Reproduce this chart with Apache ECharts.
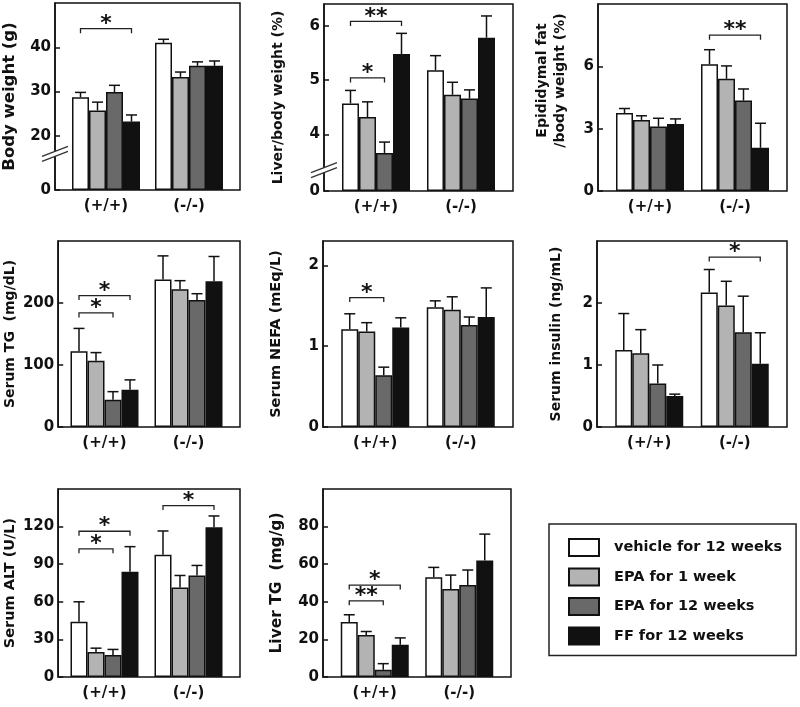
<!DOCTYPE html>
<html><head><meta charset="utf-8">
<script src="https://cdn.jsdelivr.net/npm/echarts@6.0.0/dist/echarts.min.js"></script>
<style>html,body{margin:0;padding:0;background:#fff}#c{width:800px;height:707px}</style>
</head><body><div id="c"></div>
<script>
// ---------- data ----------
const groups = ['(+/+)', '(-/-)'];
const treatments = ['vehicle for 12 weeks', 'EPA for 1 week', 'EPA for 12 weeks', 'FF for 12 weeks'];
const treatmentColors = ['#ffffff', '#b3b3b3', '#696969', '#111111'];

// [ (+/+) values , (-/-) values ], order = treatments
const bodyWeightMean = [[28.7, 25.7, 29.9, 23.2], [41.0, 33.3, 35.8, 35.8]];
const bodyWeightSE   = [[1.1, 1.9, 1.5, 1.5], [0.8, 1.1, 0.9, 1.1]];
const bodyWeightTicks = [0, 20, 30, 40];
const bodyWeightSig = [[0, 0, 3, 44.2, '*']];

const liverRatioMean = [[4.57, 4.32, 3.66, 5.48], [5.18, 4.73, 4.66, 5.78]];
const liverRatioSE   = [[0.24, 0.28, 0.20, 0.38], [0.27, 0.23, 0.16, 0.40]];
const liverRatioTicks = [0, 4, 5, 6];
const liverRatioSig = [[0, 0, 2, 5.04, '*'], [0, 0, 3, 6.08, '**']];

const fatRatioMean = [[3.75, 3.42, 3.10, 3.22], [6.10, 5.40, 4.35, 2.08]];
const fatRatioSE   = [[0.22, 0.20, 0.40, 0.25], [0.70, 0.62, 0.56, 1.18]];
const fatRatioTicks = [0, 3, 6];
const fatRatioSig = [[1, 0, 3, 7.5, '**']];

const serumTGMean = [[122, 107, 44, 60], [238, 222, 205, 235]];
const serumTGSE   = [[37, 13, 13, 16], [38, 14, 10, 40]];
const serumTGTicks = [0, 100, 200];
const serumTGSig = [[0, 0, 3, 212, '*'], [0, 0, 2, 184, '*']];

const nefaMean = [[1.21, 1.18, 0.64, 1.23], [1.48, 1.45, 1.26, 1.36]];
const nefaSE   = [[0.19, 0.11, 0.10, 0.12], [0.08, 0.16, 0.10, 0.36]];
const nefaTicks = [0, 1, 2];
const nefaSig = [[0, 0, 2, 1.6, '*']];

const insulinMean = [[1.24, 1.19, 0.70, 0.50], [2.17, 1.96, 1.53, 1.02]];
const insulinSE   = [[0.59, 0.38, 0.30, 0.03], [0.37, 0.39, 0.58, 0.50]];
const insulinTicks = [0, 1, 2];
const insulinSig = [[1, 0, 3, 2.74, '*']];

const altMean = [[44, 20, 17.5, 84], [97.5, 71.5, 81, 119.5]];
const altSE   = [[16, 3, 4.5, 20], [19, 9.5, 8, 9]];
const altTicks = [0, 30, 60, 90, 120];
const altSig = [[0, 0, 3, 116.3, '*'], [0, 0, 2, 102.3, '*'], [1, 0, 3, 136.8, '*']];

const liverTGMean = [[29.2, 22.4, 3.8, 17.1], [53, 46.8, 49, 62]];
const liverTGSE   = [[3.9, 1.8, 3.3, 3.7], [5.3, 7.4, 7.9, 14]];
const liverTGTicks = [0, 20, 40, 60, 80];
const liverTGSig = [[0, 0, 3, 48.9, '*'], [0, 0, 2, 40.5, '**']];

// ---------- layout ----------
const FONT = 'DejaVu Sans';
const BAR_W = 17;
const panels = [
  {title: 'Body weight (g)', mean: bodyWeightMean, se: bodyWeightSE, ticks: bodyWeightTicks, sig: bodyWeightSig,
   max: 50, brk: [7.5, 16.6], frame: [55, 3, 185, 187], ts: 16.5, gap: 36},
  {title: 'Liver/body weight (%)', mean: liverRatioMean, se: liverRatioSE, ticks: liverRatioTicks, sig: liverRatioSig,
   max: 6.4, brk: [0.33, 3.4], frame: [324, 4, 189, 187], ts: 14, gap: 37},
  {title: 'Epididymal fat\n/body weight (%)', mean: fatRatioMean, se: fatRatioSE, ticks: fatRatioTicks, sig: fatRatioSig,
   max: 9, frame: [598, 4, 189, 187], ts: 14, gap: 29, pad: [0, 0, 0, 34]},
  {title: 'Serum TG  (mg/dL)', mean: serumTGMean, se: serumTGSE, ticks: serumTGTicks, sig: serumTGSig,
   max: 300, frame: [53, 241, 187, 186], ts: 14, gap: 34},
  {title: 'Serum NEFA (mEq/L)', mean: nefaMean, se: nefaSE, ticks: nefaTicks, sig: nefaSig,
   max: 2.3, frame: [323, 241, 190, 186], ts: 14.5, gap: 38},
  {title: 'Serum insulin (ng/mL)', mean: insulinMean, se: insulinSE, ticks: insulinTicks, sig: insulinSig,
   max: 3, frame: [597, 241, 190, 186], ts: 14, gap: 32},
  {title: 'Serum ALT (U/L)', mean: altMean, se: altSE, ticks: altTicks, sig: altSig,
   max: 150, frame: [53, 489, 187, 188], ts: 14.5, gap: 36},
  {title: 'Liver TG  (mg/g)', mean: liverTGMean, se: liverTGSE, ticks: liverTGTicks, sig: liverTGSig,
   max: 100, frame: [323, 489, 188, 188], ts: 15.5, gap: 37}
];

const grid = [], xAxis = [], yAxis = [], series = [];

function yScale(p) {
  const o = {type: 'value', min: 0, max: p.max, splitLine: {show: false}};
  if (p.brk) {
    o.breaks = [{start: p.brk[0], end: p.brk[1], gap: '3.2%'}];
    o.breakArea = {show: false};
  }
  return o;
}

panels.forEach((p, k) => {
  const [L, T, W, H] = p.frame;
  const a = 2 * k, b = 2 * k + 1;
  grid.push({left: L, top: T, width: W, height: H, show: true, borderColor: '#111', borderWidth: 1.5});
  grid.push({left: L + 9.5, top: T, width: W - 19, height: H});

  xAxis.push({type: 'value', gridIndex: a, min: 0, max: 1, show: false});
  xAxis.push({type: 'category', gridIndex: b, data: groups,
    axisLine: {show: false}, axisTick: {show: false}, splitLine: {show: false},
    axisLabel: {margin: 9, fontFamily: FONT, fontWeight: 'bold', fontSize: 15, color: '#111'}});

  yAxis.push(Object.assign(yScale(p), {
    gridIndex: a, name: p.title, nameLocation: 'middle', nameGap: p.gap,
    nameTextStyle: {fontFamily: FONT, fontWeight: 'bold', fontSize: p.ts, color: '#111',
      lineHeight: 18, padding: p.pad || 0},
    axisLine: {show: true, lineStyle: {color: '#111', width: 1.5}},
    axisTick: {show: true, inside: true, length: 5, customValues: p.ticks, lineStyle: {color: '#111', width: 1.5}},
    axisLabel: {show: true, margin: 4, customValues: p.ticks, fontFamily: FONT, fontWeight: 'bold', fontSize: 15, color: '#111'}
  }));
  yAxis.push(Object.assign(yScale(p), {gridIndex: b, show: false}));

  treatments.forEach((t, i) => {
    series.push({type: 'bar', name: t, xAxisIndex: b, yAxisIndex: b, barWidth: BAR_W, barGap: '0%',
      data: p.mean.map(g => g[i]), silent: true, z: 2,
      itemStyle: {color: treatmentColors[i], borderColor: '#111', borderWidth: 1.5}});
  });

  const errData = [];
  p.mean.forEach((g, gi) => g.forEach((m, ti) => errData.push([gi, ti, m, p.se[gi][ti]])));
  series.push({type: 'custom', name: 'err' + k, xAxisIndex: b, yAxisIndex: b, z: 5, silent: true,
    data: errData, encode: {x: 0, y: 2},
    renderItem: (params, api) => {
      const g = api.value(0), t = api.value(1), m = api.value(2), s = api.value(3);
      const base = api.coord([g, m]), top = api.coord([g, m + s]);
      const x = base[0] + (t - 1.5) * BAR_W;
      return {type: 'group', children: [
        {type: 'line', shape: {x1: x, y1: base[1], x2: x, y2: top[1]}, style: {stroke: '#111', lineWidth: 1.5}},
        {type: 'line', shape: {x1: x - 5.5, y1: top[1], x2: x + 5.5, y2: top[1]}, style: {stroke: '#111', lineWidth: 1.5}}
      ]};
    }});

  series.push({type: 'custom', name: 'sig' + k, xAxisIndex: b, yAxisIndex: b, z: 6, silent: true,
    data: p.sig.map(s => [s[0], s[1], s[2], s[3]]), encode: {x: 0, y: 3},
    renderItem: (params, api) => {
      const g = api.value(0), f = api.value(1), to = api.value(2), y = api.value(3);
      const c = api.coord([g, y]);
      const x1 = c[0] + (f - 1.5) * BAR_W, x2 = c[0] + (to - 1.5) * BAR_W;
      return {type: 'group', children: [
        {type: 'polyline', shape: {points: [[x1, c[1] + 4.5], [x1, c[1]], [x2, c[1]], [x2, c[1] + 4.5]]},
         style: {stroke: '#222', lineWidth: 1.3, fill: null}},
        {type: 'text', x: (x1 + x2) / 2, y: c[1] - 4.5,
         style: {text: p.sig[params.dataIndex][4], fontFamily: FONT, fontWeight: 'bold', fontSize: 22,
           fill: '#111', align: 'center', verticalAlign: 'middle'}}
      ]};
    }});

  if (p.brk) {
    series.push({type: 'custom', name: 'brk' + k, xAxisIndex: a, yAxisIndex: a, z: 20, silent: true,
      data: [[0, (p.brk[0] + p.brk[1]) / 2]], encode: {x: 0, y: 1},
      renderItem: (params, api) => {
        const c = api.coord([0, api.value(1)]);
        const x = c[0], y = c[1];
        return {type: 'group', children: [
          {type: 'polygon', shape: {points: [[x - 5, y - 0.5], [x + 5, y - 4.5], [x + 5, y + 0.5], [x - 5, y + 4.5]]},
           style: {fill: '#fff'}},
          {type: 'line', shape: {x1: x - 13, y1: y + 2.5, x2: x + 13, y2: y - 7.5}, style: {stroke: '#333', lineWidth: 1.3}},
          {type: 'line', shape: {x1: x - 13, y1: y + 7.5, x2: x + 13, y2: y - 2.5}, style: {stroke: '#333', lineWidth: 1.3}}
        ]};
      }});
  }
});

const chart = echarts.init(document.getElementById('c'), null, {renderer: 'canvas'});
chart.setOption({
  animation: false,
  backgroundColor: '#fff',
  grid, xAxis, yAxis, series,
  legend: {data: treatments, orient: 'vertical', left: 549, top: 524, itemWidth: 30, itemHeight: 17,
    itemGap: 10.5, icon: 'rect', padding: [14, 14, 10, 19], borderColor: '#222', borderWidth: 1.5,
    selectedMode: false,
    textStyle: {fontFamily: FONT, fontWeight: 'bold', fontSize: 14.5, color: '#111', padding: [0, 0, 0, 10]}}
});
</script></body></html>
